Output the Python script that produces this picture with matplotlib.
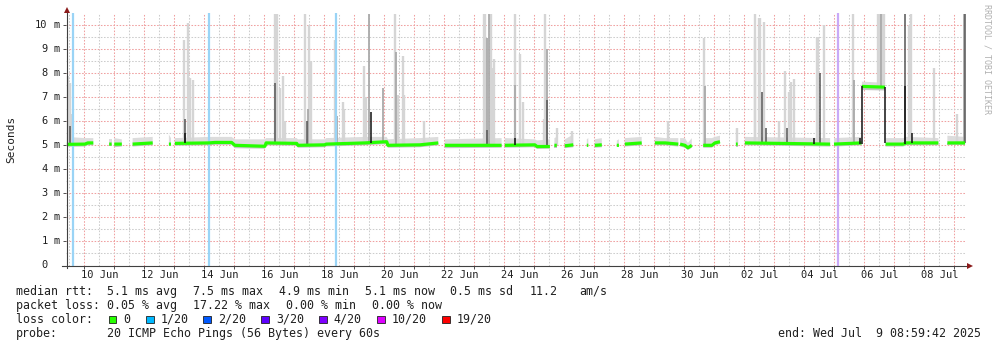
import numpy as np
import matplotlib
matplotlib.use("Agg")
import matplotlib.pyplot as plt
from matplotlib.patches import Rectangle
from matplotlib.lines import Line2D
from matplotlib.transforms import offset_copy

nan = np.nan

# time axis: days since 10 Jun 2025 00:00, window ends Wed Jul 9 08:59:42
t_start, t_end = -0.61, 29.39

# median rtt (ms), nan separates gaps with no data
med_t = [-0.58, 0.02, 0.12, 0.30, nan,
         0.83, 0.91, nan,
         1.00, 1.25, nan,
         1.61, 2.28, nan,
         2.82, 2.89, nan,
         3.02, 4.16, 4.36, 4.91, 5.02, 6.02, 6.06, 7.08, 7.12, 8.02, 8.06, 9.36, 10.08, 10.12, 11.19, 11.80, nan,
         12.02, 13.91, nan,
         14.02, 15.02, 15.09, 15.52, nan,
         15.67, 15.75, nan,
         16.02, 16.30, nan,
         16.75, 16.80, nan,
         17.02, 17.25, nan,
         17.75, 17.82, nan,
         18.02, 18.58, nan,
         19.02, 19.36, 19.80, nan,
         19.86, 20.02, 20.12, 20.25, nan,
         20.63, 20.92, 21.02, 21.19, nan,
         21.72, 21.78, nan,
         22.02, 24.86, nan,
         24.99, 25.91, nan,
         25.92, 26.69, nan,
         26.71, 27.29, 27.41, 28.47, nan,
         28.77, 29.36]
med_v = [5.04, 5.05, 5.10, 5.10, nan,
         5.05, 5.05, nan,
         5.05, 5.05, nan,
         5.05, 5.10, nan,
         5.05, 5.05, nan,
         5.08, 5.10, 5.12, 5.12, 5.00, 4.96, 5.10, 5.08, 5.00, 5.02, 5.05, 5.10, 5.15, 5.00, 5.02, 5.10, nan,
         5.00, 5.00, nan,
         5.00, 5.02, 4.95, 4.95, nan,
         5.00, 5.00, nan,
         4.98, 5.02, nan,
         5.00, 5.00, nan,
         5.00, 5.02, nan,
         5.00, 5.00, nan,
         5.05, 5.10, nan,
         5.10, 5.10, 5.05, nan,
         5.05, 5.00, 4.90, 5.00, nan,
         5.00, 5.00, 5.10, 5.15, nan,
         5.05, 5.05, nan,
         5.10, 5.05, nan,
         5.05, 5.10, nan,
         7.45, 7.42, nan,
         5.05, 5.05, 5.10, 5.10, nan,
         5.10, 5.10]
smoke_hi = [5.35, 5.30, 5.30, 5.30, nan,
            5.25, 5.25, nan,
            5.30, 5.25, nan,
            5.30, 5.35, nan,
            5.45, 5.30, nan,
            5.30, 5.35, 5.35, 5.35, 5.25, 5.25, 5.30, 5.30, 5.25, 5.25, 5.30, 5.35, 5.35, 5.25, 5.30, 5.35, nan,
            5.25, 5.30, nan,
            5.30, 5.25, 5.20, 5.25, nan,
            5.30, 5.35, nan,
            5.25, 5.45, nan,
            5.25, 5.30, nan,
            5.25, 5.30, nan,
            5.20, 5.25, nan,
            5.30, 5.35, nan,
            5.35, 5.30, 5.30, nan,
            5.30, 5.30, 5.10, 5.30, nan,
            5.30, 5.30, 5.35, 5.40, nan,
            5.70, 5.30, nan,
            5.35, 5.30, nan,
            5.30, 5.35, nan,
            7.65, 7.60, nan,
            5.30, 5.30, 5.35, 5.30, nan,
            5.40, 5.35]
smoke_lo = [4.94, 4.95, 5.00, 5.00, nan,
            4.96, 4.96, nan,
            4.92, 4.95, nan,
            4.95, 5.00, nan,
            4.96, 4.96, nan,
            4.98, 5.00, 5.02, 5.02, 4.88, 4.86, 5.00, 4.98, 4.90, 4.92, 4.95, 5.00, 5.05, 4.90, 4.92, 5.00, nan,
            4.88, 4.90, nan,
            4.90, 4.92, 4.85, 4.86, nan,
            4.90, 4.90, nan,
            4.88, 4.92, nan,
            4.92, 4.92, nan,
            4.90, 4.92, nan,
            4.92, 4.92, nan,
            4.95, 5.00, nan,
            5.00, 5.00, 4.95, nan,
            4.95, 4.90, 4.80, 4.90, nan,
            4.90, 4.90, 5.00, 5.05, nan,
            4.95, 4.95, nan,
            5.00, 4.95, nan,
            4.95, 5.00, nan,
            7.30, 7.28, nan,
            4.95, 4.95, 5.00, 5.00, nan,
            5.00, 5.00]

# single ping spikes: time, bottom, top (ms), shade 0 light .. 3 black
spike_t = [-0.543, -0.493, -0.443, -0.393, -0.477,
           3.333, 3.373, 3.457, 3.507, 3.613, 3.357,
           6.340, 6.373, 6.423, 6.507, 6.623, 6.690,
           7.357, 7.407, 7.490, 7.557, 7.457,
           8.357, 8.407, 8.607, 8.657,
           9.323, 9.390, 9.490, 9.557, 9.940,
           10.373, 10.397, 10.473, 10.607, 10.657, 11.323,
           13.323, 13.373, 13.407, 13.423, 13.490, 13.540, 13.590, 13.657,
           14.340, 14.373, 14.357, 14.523, 14.607,
           15.373, 15.407, 15.423, 15.307, 15.757, 16.257,
           19.467, 20.667, 20.683, 21.740,
           22.340, 22.373, 22.490, 22.523, 22.580, 22.673, 22.723,
           23.167, 23.357, 23.423, 23.500, 23.557, 23.667,
           24.413, 24.457, 24.523, 24.667, 24.323,
           25.633, 25.673, 25.873, 25.917,
           26.457, 26.507, 26.557, 26.607, 26.657, 26.697,
           27.340, 27.357, 27.490, 27.557, 27.590,
           28.333, 29.080, 29.333, 29.357]
spike_lo = [5.0, 5.0, 5.0, 5.0, 5.0,
            5.1, 5.1, 5.1, 5.1, 5.1, 5.1,
            5.1, 5.1, 5.1, 5.1, 5.1, 5.1,
            5.0, 5.0, 5.0, 5.0, 5.0,
            5.05, 5.05, 5.05, 5.05,
            5.1, 5.1, 5.1, 5.1, 5.1,
            5.0, 5.0, 5.0, 5.0, 5.0, 5.05,
            5.0, 5.0, 5.0, 5.0, 5.0, 5.0, 5.0, 5.0,
            5.0, 5.0, 5.0, 5.0, 5.0,
            4.95, 4.95, 4.95, 4.95, 5.0, 5.0,
            5.1, 5.0, 5.0, 5.05,
            5.1, 5.1, 5.1, 5.1, 5.1, 5.1, 5.1,
            5.1, 5.1, 5.1, 5.1, 5.1, 5.1,
            5.05, 5.05, 5.05, 5.05, 5.05,
            5.05, 5.05, 5.05, 5.05,
            7.4, 7.4, 7.4, 7.4, 7.4, 5.1,
            5.05, 5.05, 5.1, 5.1, 5.1,
            5.1, 5.1, 5.1, 5.1]
spike_hi = [7.9, 7.6, 6.3, 6.2, 5.8,
            9.4, 6.1, 10.1, 7.8, 7.7, 5.5,
            10.45, 7.6, 10.45, 7.4, 7.9, 6.0,
            10.45, 6.0, 10.0, 8.5, 6.5,
            9.4, 6.2, 6.8, 6.5,
            8.3, 7.0, 10.45, 6.4, 7.4,
            10.45, 8.9, 7.1, 8.7, 7.1, 6.0,
            10.45, 10.45, 9.45, 5.65, 10.45, 10.45, 8.2, 8.6,
            10.45, 7.5, 5.3, 8.8, 6.8,
            10.45, 9.0, 6.9, 6.1, 5.7, 5.6,
            6.0, 9.45, 7.45, 5.7,
            9.5, 10.45, 10.3, 10.3, 7.2, 10.15, 5.7,
            6.0, 8.1, 5.7, 7.2, 7.65, 7.75,
            9.5, 9.5, 8.0, 10.0, 5.3,
            10.45, 7.7, 5.3, 7.45,
            10.45, 10.45, 10.45, 10.45, 10.45, 7.42,
            10.45, 7.45, 10.0, 10.45, 5.5,
            8.2, 6.3, 10.45, 10.45]
spike_shade = [0, 0, 0, 1, 2,
               0, 2, 0, 0, 0, 3,
               0, 2, 0, 0, 0, 0,
               0, 2, 0, 0, 1,
               0, 1, 0, 0,
               0, 0, 1, 3, 1,
               0, 1, 0, 0, 0, 0,
               0, 0, 1, 2, 1, 0, 0, 0,
               0, 1, 3, 0, 0,
               0, 1, 2, 0, 0, 0,
               0, 0, 1, 0,
               0, 0, 0, 0, 2, 0, 2,
               0, 0, 2, 0, 0, 0,
               0, 0, 2, 0, 3,
               0, 1, 3, 3,
               0, 0, 1, 0, 0, 3,
               2, 3, 0, 0, 3,
               0, 0, 1, 2]

# loss events (packet loss drawn as full-height bars)
loss_t = [-0.377, 4.157, 8.40, 25.133]
loss_c = ["#9ad4f6", "#9ad4f6", "#9ad4f6", "#c9a9f7"]

day_labels = ["10 Jun", "12 Jun", "14 Jun", "16 Jun", "18 Jun", "20 Jun", "22 Jun", "24 Jun",
              "26 Jun", "28 Jun", "30 Jun", "02 Jul", "04 Jul", "06 Jul", "08 Jul"]
day_label_t = [0, 2, 4, 6, 8, 10, 12, 14, 16, 18, 20, 22, 24, 26, 28]

loss_names = ["0", "1/20", "2/20", "3/20", "4/20", "10/20", "19/20"]
loss_colors = ["#26ff00", "#00b8ff", "#0059ff", "#5e00ff", "#7e00ff", "#dd00ff", "#ff0000"]

mono = "DejaVu Sans Mono"
W, H = 997, 347
fig = plt.figure(figsize=(W / 100, H / 100), dpi=100)
fig.patch.set_facecolor("white")

def fx(x):
    return x / W

def fy(y):
    return 1 - y / H

ax = fig.add_axes([fx(66), fy(265.5), 900 / W, 252.4 / H])
ax.set_xlim(t_start, t_end)
ax.set_ylim(0, 10.5)
for s in ax.spines.values():
    s.set_visible(False)

# grid: red dotted majors, grey dotted minors
ax.set_xticks(np.arange(0, 30))
ax.set_xticks(np.arange(-0.5, 29.5, 1), minor=True)
ax.set_yticks(np.arange(0, 11))
ax.set_yticks(np.arange(0.5, 10, 1), minor=True)
ax.grid(which="major", color="#f0a0a0", linestyle=(0, (1.5, 1.5)), linewidth=0.75)
ax.grid(which="minor", color="#cccccc", linestyle=(0, (1.5, 1.5)), linewidth=0.75)
ax.set_axisbelow(True)
ax.tick_params(which="major", length=2, width=0.7, color="#505050",
               labelbottom=False, labelleft=False)
ax.tick_params(which="minor", length=0)

# smoke
ax.fill_between(med_t, smoke_lo, med_v, color="#c4c4c4", lw=0)
ax.fill_between(med_t, med_v, smoke_hi, color="#dcdcdc", lw=0)

shades = ["#d5d5d5", "#a9a9a9", "#555555", "#111111"]
widths = [1.7, 1.3, 1.1, 1.1]
st = np.array(spike_t)
slo = np.array(spike_lo)
shi = np.array(spike_hi)
ssh = np.array(spike_shade)
for k in range(3):
    m = ssh == k
    ax.vlines(st[m], slo[m], shi[m], colors=shades[k], lw=widths[k])

for t, c in zip(loss_t, loss_c):
    ax.axvline(t, color=c, lw=1.6)

ax.plot(med_t, med_v, color="#26ff00", lw=2.3, solid_capstyle="butt")
m = ssh == 3
ax.vlines(st[m], slo[m], shi[m], colors=shades[3], lw=widths[3])

# axis lines with arrows
fig.add_artist(Line2D([fx(66.5), fx(66.5)], [fy(268), fy(11)], color="#404040", lw=0.8))
fig.add_artist(Line2D([fx(62), fx(969)], [fy(265.5), fy(265.5)], color="#404040", lw=0.8))
fig.add_artist(Line2D([fx(66.5)], [fy(10)], marker="^", ms=5, color="#8b1a1a", mew=0))
fig.add_artist(Line2D([fx(970)], [fy(265.5)], marker=">", ms=5, color="#8b1a1a", mew=0))

# tick labels
ytr = offset_copy(ax.get_yaxis_transform(), fig=fig, x=-18.5, y=0, units="dots")
utr = offset_copy(ax.get_yaxis_transform(), fig=fig, x=-12.5, y=0, units="dots")
for v in range(11):
    ax.text(0, v, str(v), transform=ytr, ha="right", va="center",
            fontsize=7.5, family=mono, color="#202020")
    if v > 0:
        ax.text(0, v, "m", transform=utr, ha="left", va="center",
                fontsize=7.5, family=mono, color="#202020")
xtr = offset_copy(ax.get_xaxis_transform(), fig=fig, x=0, y=-9.5, units="dots")
for t, lab in zip(day_label_t, day_labels):
    ax.text(t + 0.5, 0, lab, transform=xtr, ha="center", va="center",
            fontsize=7.5, family=mono, color="#202020")

fig.text(fx(11), fy(139.5), "Seconds", rotation=90, ha="center", va="center",
         fontsize=8, family=mono, color="#202020")
fig.text(fx(987), fy(4), "RRDTOOL / TOBI OETIKER", rotation=270, ha="center", va="top",
         fontsize=6, family=mono, color="#b0b0b0")

# legend block
fs = 8.4
def line(x, y, s):
    fig.text(fx(x), fy(y), s, ha="left", va="center", fontsize=fs, family=mono, color="#202020")

y1, y2, y3, y4 = 291.5, 305.3, 319.3, 333.3
line(16, y1, "median rtt:")
line(107, y1, "5.1 ms avg")
line(193, y1, "7.5 ms max")
line(279, y1, "4.9 ms min")
line(365, y1, "5.1 ms now")
line(450, y1, "0.5 ms sd")
line(530, y1, "11.2")
line(579, y1, "am/s")
line(16, y2, "packet loss:")
line(107, y2, "0.05 % avg")
line(193, y2, "17.22 % max")
line(286, y2, "0.00 % min")
line(372, y2, "0.00 % now")
line(16, y3, "loss color:")
box_x = [108.7, 146, 203.3, 261.3, 319.3, 377.3, 442.3]
for bx, name, c in zip(box_x, loss_names, loss_colors):
    fig.add_artist(Rectangle((fx(bx), fy(y3 + 3.8)), 7.5 / W, 7.5 / H, transform=fig.transFigure,
                             facecolor=c, edgecolor="#202020", lw=0.6))
    line(bx + 14.5, y3, name)
line(16, y4, "probe:")
line(107, y4, "20 ICMP Echo Pings (56 Bytes) every 60s")
line(778, y4, "end: Wed Jul  9 08:59:42 2025")

fig.savefig("out.png", dpi=100)
